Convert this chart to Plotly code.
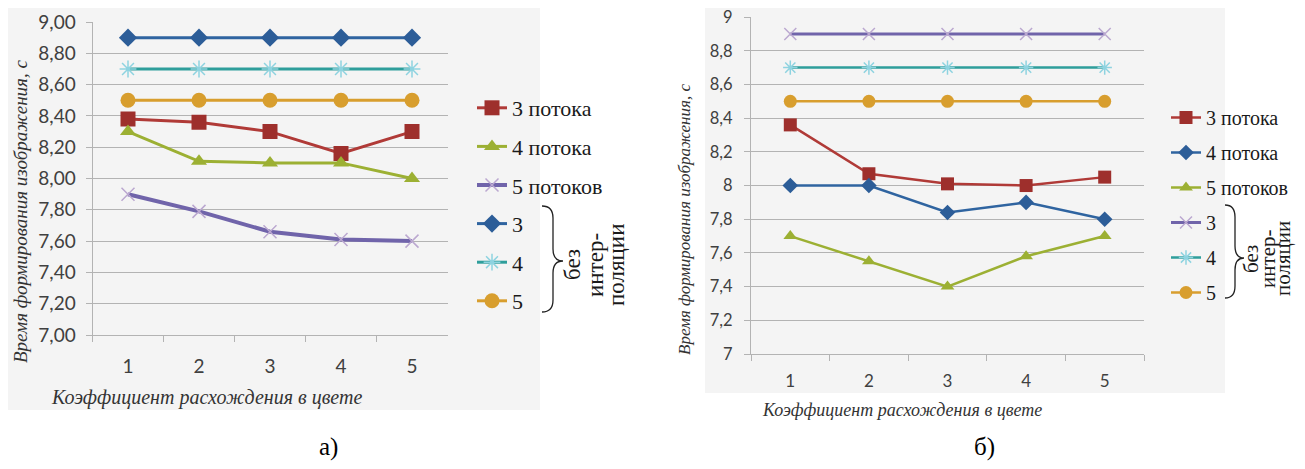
import plotly.graph_objects as go

W, H = 1289, 453
OFF = 8  # browser body margin
def px(x): return (x - OFF) / W
def py(y): return 1 - (y - OFF) / H

categories = ["1", "2", "3", "4", "5"]
y_ticks = [7.0, 7.2, 7.4, 7.6, 7.8, 8.0, 8.2, 8.4, 8.6, 8.8, 9.0]

# Chart а)
a_names = ["3 потока", "4 потока", "5 потоков", "3", "4", "5"]
a_3_streams = [8.38, 8.36, 8.30, 8.16, 8.30]
a_4_streams = [8.30, 8.11, 8.10, 8.10, 8.00]
a_5_streams = [7.90, 7.79, 7.66, 7.61, 7.60]
a_3_noint = [8.90, 8.90, 8.90, 8.90, 8.90]
a_4_noint = [8.70, 8.70, 8.70, 8.70, 8.70]
a_5_noint = [8.50, 8.50, 8.50, 8.50, 8.50]

# Chart б)
b_names = ["3 потока", "4 потока", "5 потоков", "3", "4", "5"]
b_3_streams = [8.36, 8.07, 8.01, 8.00, 8.05]
b_4_streams = [8.00, 8.00, 7.84, 7.90, 7.80]
b_5_streams = [7.70, 7.55, 7.40, 7.58, 7.70]
b_3_noint = [8.9, 8.9, 8.9, 8.9, 8.9]
b_4_noint = [8.7, 8.7, 8.7, 8.7, 8.7]
b_5_noint = [8.5, 8.5, 8.5, 8.5, 8.5]

x_title = "Коэффициент расхождения в цвете"
y_title = "Время формирования изображения, с"

RED, RED_M = "#B03A37", "#9E2F2C"
GREEN = "#9CB033"
PURPLE, PURPLE_M = "#7064AA", "#BBA8D0"
BLUE, BLUE_M = "#2F64A0", "#2C5D98"
TEAL, TEAL_M = "#2E9E9B", "#8ED3E0"
ORANGE = "#D89E2E"

fig = go.Figure()

def add(y, name, color, mcolor, symbol, msize, lw, xa, ya, leg, grp, open_=False):
    if open_:
        marker = dict(symbol=symbol, size=msize, color=mcolor, line=dict(color=mcolor, width=1.5))
    else:
        marker = dict(symbol=symbol, size=msize, color=mcolor, line=dict(width=0))
    fig.add_trace(go.Scatter(x=categories, y=y, name=name, mode="lines+markers",
                             line=dict(color=color, width=lw), marker=marker,
                             xaxis=xa, yaxis=ya, legend=leg, legendgroup=grp))

# left
add(a_3_streams, a_names[0], RED, RED_M, "square", 15, 3, "x", "y", "legend", "a1")
add(a_4_streams, a_names[1], GREEN, GREEN, "triangle-up", 14, 3, "x", "y", "legend", "a2")
add(a_5_streams, a_names[2], PURPLE, PURPLE_M, "x-thin-open", 13, 4, "x", "y", "legend", "a3", True)
add(a_3_noint, a_names[3], BLUE, BLUE_M, "diamond", 14, 3, "x", "y", "legend", "a4")
add(a_4_noint, a_names[4], TEAL, TEAL_M, "asterisk-open", 14, 3, "x", "y", "legend", "a5", True)
add(a_5_noint, a_names[5], ORANGE, ORANGE, "circle", 15, 3, "x", "y", "legend", "a6")

# right
add(b_3_streams, b_names[0], RED, RED_M, "square", 13, 2.5, "x2", "y2", "legend2", "b1")
add(b_4_streams, b_names[1], BLUE, BLUE_M, "diamond", 12, 2.5, "x2", "y2", "legend2", "b2")
add(b_5_streams, b_names[2], GREEN, GREEN, "triangle-up", 12, 2.5, "x2", "y2", "legend2", "b3")
add(b_3_noint, b_names[3], PURPLE, PURPLE_M, "x-thin-open", 12, 3, "x2", "y2", "legend2", "b4", True)
add(b_4_noint, b_names[4], TEAL, TEAL_M, "asterisk-open", 12, 2.5, "x2", "y2", "legend2", "b5", True)
add(b_5_noint, b_names[5], ORANGE, ORANGE, "circle", 13, 2.5, "x2", "y2", "legend2", "b6")

GRID = "#b3b3b3"
TICKF = "#404040"
xcommon = dict(type="category", range=[-0.5, 4.5], showgrid=False, showline=True,
               linecolor=GRID, linewidth=1, ticks="outside", tickson="boundaries",
               tickcolor=GRID, ticklen=6, zeroline=False, automargin=False,
               ticklabeloverflow="allow")
ycommon = dict(range=[7, 9.0005], tickmode="array", tickvals=y_ticks,
               showgrid=True, gridcolor=GRID, gridwidth=1,
               showline=True, linecolor=GRID, ticks="outside", tickcolor=GRID, ticklen=6,
               zeroline=False, automargin=False, ticklabeloverflow="allow")

fig.update_layout(
    width=W, height=H, autosize=False,
    margin=dict(l=0, r=0, t=0, b=0, autoexpand=False),
    paper_bgcolor="white", plot_bgcolor="rgba(0,0,0,0)",
    separators=", ",
    xaxis=dict(domain=[px(92.5), px(447.5)], anchor="y",
               tickfont=dict(family="Lato", size=19, color=TICKF), ticklabelstandoff=14, **xcommon),
    yaxis=dict(domain=[py(335), py(22)], anchor="x", tickformat=".2f",
               tickfont=dict(family="Lato", size=19, color=TICKF), ticklabelstandoff=6, **ycommon),
    xaxis2=dict(domain=[px(751), px(1144)], anchor="y2",
                tickfont=dict(family="Lato", size=17, color=TICKF), ticklabelstandoff=12, **xcommon),
    yaxis2=dict(domain=[py(354), py(17)], anchor="x2",
                tickfont=dict(family="Lato", size=16.5, color=TICKF), ticklabelstandoff=8, **ycommon),
    legend=dict(x=px(472), y=py(87), xanchor="left", yanchor="top", bgcolor="rgba(0,0,0,0)",
                font=dict(family="Liberation Serif", size=22, color="#1a1a1a"),
                tracegroupgap=7, itemwidth=30),
    legend2=dict(x=px(1166), y=py(98), xanchor="left", yanchor="top", bgcolor="rgba(0,0,0,0)",
                 font=dict(family="Liberation Serif", size=20, color="#1a1a1a"),
                 tracegroupgap=6, itemwidth=30),
)

shapes = [
    dict(type="rect", xref="paper", yref="paper", x0=px(8), x1=px(540), y0=py(410), y1=py(7),
         fillcolor="#f4f4f4", line=dict(width=0), layer="below"),
    dict(type="rect", xref="paper", yref="paper", x0=px(705), x1=px(1225), y0=py(393), y1=py(7),
         fillcolor="#f4f4f4", line=dict(width=0), layer="below"),
]

def brace(x0, xm, xt, y0, ym, y1):
    pts = (f"M {px(x0)},{py(y0)} Q {px(xm)},{py(y0)} {px(xm)},{py(y0+12)} "
           f"L {px(xm)},{py(ym-12)} Q {px(xm)},{py(ym)} {px(xt)},{py(ym)} "
           f"Q {px(xm)},{py(ym)} {px(xm)},{py(ym+12)} "
           f"L {px(xm)},{py(y1-12)} Q {px(xm)},{py(y1)} {px(x0)},{py(y1)}")
    return dict(type="path", xref="paper", yref="paper", path=pts,
                line=dict(color="#222222", width=1.3))

shapes.append(brace(542, 553, 563, 206, 261, 312))
shapes.append(brace(1225, 1235, 1244, 205, 258, 298))
fig.update_layout(shapes=shapes)

ann = []
SERIF_I = dict(family="Liberation Serif", color="#333333")
def note(x, y, text, size, font=SERIF_I, angle=0):
    ann.append(dict(x=px(x), y=py(y), text=text, showarrow=False, textangle=angle,
                    xref="paper", yref="paper", xanchor="center", yanchor="middle",
                    font=dict(size=size, **font)))

note(206, 397, "<i>" + x_title + "</i>", 20)
note(20, 212, "<i>" + y_title + "</i>", 19, angle=-90)
note(902, 410, "<i>" + x_title + "</i>", 18)
note(685, 220, "<i>" + y_title + "</i>", 17, angle=-90)

brace_text = ["без", "интер-", "поляции"]
PLAIN = dict(family="Liberation Serif", color="#1a1a1a")
for xx, t in zip([572, 595, 616], brace_text):
    note(xx, 265, t, 23, PLAIN, -90)
for xx, t in zip([1251, 1268, 1283], brace_text):
    note(xx, 259, t, 21, PLAIN, -90)

BLACK = dict(family="Liberation Serif", color="black")
note(328, 447, "а)", 25, BLACK)
note(984, 447, "б)", 25, BLACK)
fig.update_layout(annotations=ann)

fig.write_html("out.html")
